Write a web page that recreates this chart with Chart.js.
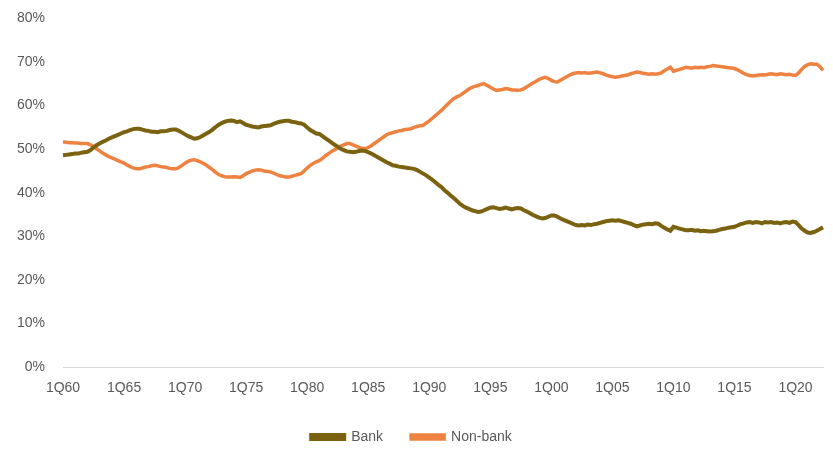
<!DOCTYPE html>
<html>
<head>
<meta charset="utf-8">
<script src="https://cdn.jsdelivr.net/npm/chart.js@4.4.0/dist/chart.umd.min.js"></script>
<style>
  html, body { margin: 0; padding: 0; background: #fff; }
  #wrap { width: 833px; height: 450px; }
</style>
</head>
<body>
<div id="wrap"><canvas id="shareChart" width="833" height="450"></canvas></div>
<script>
// quarterly series, 1Q60 .. 2Q22 (one row per year)
const firstYear = 1960;
const quarterCount = 250;

const bankShare = [
    48.6, 48.7, 48.8, 48.9,  49.0, 49.0, 49.2, 49.3,  49.4, 49.8, 50.4, 50.9,  51.3, 51.7, 52.0, 52.4,
    52.7, 53.0, 53.3, 53.6,  53.9, 54.1, 54.4, 54.6,  54.7, 54.7, 54.5, 54.3,  54.2, 54.0, 54.0, 53.9,
    54.1, 54.1, 54.2, 54.4,  54.5, 54.5, 54.2, 53.8,  53.4, 53.0, 52.7, 52.4,  52.5, 52.8, 53.2, 53.6,
    54.0, 54.5, 55.1, 55.6,  56.0, 56.3, 56.5, 56.6,  56.5, 56.2, 56.4, 56.0,  55.6, 55.4, 55.2, 55.1,
    55.0, 55.2, 55.3, 55.4,  55.5, 55.8, 56.1, 56.3,  56.4, 56.5, 56.5, 56.3,  56.2, 56.0, 55.9, 55.6,
    55.0, 54.4, 54.0, 53.6,  53.5, 53.0, 52.5, 52.0,  51.5, 51.0, 50.6, 50.1,  49.8, 49.5, 49.4, 49.3,
    49.4, 49.6, 49.7, 49.6,  49.3, 49.0, 48.6, 48.2,  47.8, 47.4, 47.0, 46.7,  46.3, 46.2, 46.0, 45.9,
    45.8, 45.7, 45.6, 45.5,  45.2, 44.8, 44.4, 44.0,  43.5, 43.0, 42.4, 41.8,  41.3, 40.6, 40.0, 39.4,
    38.8, 38.2, 37.5, 37.0,  36.6, 36.3, 36.0, 35.8,  35.6, 35.7, 36.0, 36.3,  36.6, 36.7, 36.5, 36.3,
    36.4, 36.6, 36.4, 36.2,  36.4, 36.5, 36.4, 36.0,  35.7, 35.3, 34.9, 34.6,  34.3, 34.1, 34.2, 34.5,
    34.8, 34.8, 34.5, 34.1,  33.8, 33.5, 33.2, 32.9,  32.6, 32.5, 32.6, 32.5,  32.7, 32.6, 32.8, 32.9,
    33.1, 33.3, 33.5, 33.6,  33.7, 33.6, 33.7, 33.5,  33.3, 33.1, 32.9, 32.6,  32.3, 32.5, 32.7, 32.8,
    32.9, 32.8, 33.0, 32.9,  32.4, 32.0, 31.6, 31.3,  32.2, 32.0, 31.8, 31.6,  31.4, 31.4, 31.5, 31.3,
    31.4, 31.2, 31.3, 31.2,  31.1, 31.2, 31.3, 31.5,  31.7, 31.8, 32.0, 32.1,  32.2, 32.5, 32.8, 33.0,
    33.2, 33.3, 33.1, 33.3,  33.2, 33.0, 33.3, 33.2,  33.3, 33.1, 33.2, 33.0,  33.2, 33.3, 33.1, 33.4,
    33.3, 32.6, 31.8, 31.3,  30.9, 30.8, 31.0, 31.3,  31.7, 32.1
];

const nonBankShare = [
    51.7, 51.6, 51.5, 51.5,  51.4, 51.4, 51.3, 51.3,  51.3, 51.0, 50.6, 50.1,  49.6, 49.1, 48.7, 48.3,
    48.0, 47.7, 47.4, 47.1,  46.8, 46.4, 46.0, 45.7,  45.5, 45.5, 45.7, 45.9,  46.0, 46.2, 46.3, 46.2,
    46.0, 45.9, 45.8, 45.6,  45.5, 45.5, 45.8, 46.3,  46.8, 47.2, 47.5, 47.6,  47.4, 47.1, 46.7, 46.3,
    45.8, 45.3, 44.7, 44.2,  43.9, 43.7, 43.6, 43.6,  43.7, 43.6, 43.5, 43.9,  44.4, 44.7, 45.0, 45.2,
    45.3, 45.2, 45.0, 44.9,  44.8, 44.5, 44.2, 43.9,  43.8, 43.6, 43.6, 43.8,  44.0, 44.2, 44.4, 45.0,
    45.7, 46.3, 46.7, 47.1,  47.4, 47.9, 48.5, 49.0,  49.5, 49.9, 50.3, 50.7,  51.0, 51.3, 51.3, 51.0,
    50.7, 50.4, 50.2, 50.1,  50.4, 50.8, 51.3, 51.8,  52.3, 52.8, 53.3, 53.6,  53.8, 54.0, 54.2, 54.3,
    54.5, 54.6, 54.7, 55.0,  55.2, 55.4, 55.5, 56.0,  56.5, 57.1, 57.7, 58.3,  58.9, 59.6, 60.3, 61.0,
    61.6, 62.0, 62.3, 62.8,  63.3, 63.8, 64.2, 64.4,  64.6, 64.9, 65.0, 64.6,  64.2, 63.8, 63.5, 63.6,
    63.7, 63.9, 63.8, 63.6,  63.6, 63.5, 63.6, 63.9,  64.3, 64.8, 65.2, 65.6,  66.0, 66.3, 66.5, 66.2,
    65.8, 65.5, 65.4, 65.8,  66.2, 66.6, 67.0, 67.3,  67.5, 67.6, 67.5, 67.6,  67.4, 67.5, 67.6, 67.7,
    67.5, 67.3, 67.0, 66.8,  66.6, 66.5, 66.6, 66.8,  66.9, 67.0, 67.3, 67.5,  67.7, 67.6, 67.4, 67.3,
    67.2, 67.3, 67.2, 67.3,  67.5, 68.0, 68.4, 68.8,  67.9, 68.1, 68.3, 68.5,  68.8, 68.7, 68.6, 68.8,
    68.7, 68.8, 68.7, 68.9,  69.0, 69.2, 69.1, 69.0,  68.9, 68.8, 68.7, 68.6,  68.5, 68.2, 67.8, 67.4,
    67.1, 66.9, 66.8, 66.9,  67.0, 67.1, 67.0, 67.2,  67.3, 67.2, 67.1, 67.3,  67.2, 67.1, 67.2, 67.0,
    66.9, 67.5, 68.3, 69.0,  69.4, 69.6, 69.5, 69.5,  68.9, 68.1
];

// labels shown on the x axis (every 20th quarter)
const tickLabels = ['1Q60', '1Q65', '1Q70', '1Q75', '1Q80', '1Q85', '1Q90', '1Q95', '1Q00', '1Q05', '1Q10', '1Q15', '1Q20'];
const yTicks = [0, 10, 20, 30, 40, 50, 60, 70, 80];

const quarters = [];
for (let i = 0; i < quarterCount; i++) {
    const yr = firstYear + Math.floor(i / 4);
    quarters.push((i % 4 + 1) + 'Q' + String(yr % 100).padStart(2, '0'));
}

const labelColor = '#595959';
const fontFamily = '"Liberation Sans", Arial, sans-serif';

const ctx = document.getElementById('shareChart').getContext('2d');
new Chart(ctx, {
    type: 'line',
    data: {
        labels: quarters,
        datasets: [
            {
                label: 'Bank',
                data: bankShare,
                borderColor: '#7a6210',
                backgroundColor: '#7a6210',
                borderWidth: 4,
                pointRadius: 0,
                tension: 0
            },
            {
                label: 'Non-bank',
                data: nonBankShare,
                borderColor: '#ee8240',
                backgroundColor: '#ee8240',
                borderWidth: 3.5,
                pointRadius: 0,
                tension: 0
            }
        ]
    },
    options: {
        responsive: false,
        animation: false,
        layout: { padding: { left: 0, right: 10, top: 3, bottom: -4 } },
        scales: {
            x: {
                offset: false,
                grid: { display: false },
                border: { display: true, color: '#d9d9d9', width: 1 },
                ticks: {
                    autoSkip: false,
                    maxRotation: 0,
                    padding: 5,
                    color: labelColor,
                    font: { family: fontFamily, size: 14 },
                    callback: function (val, idx) {
                        const lbl = quarters[idx];
                        return tickLabels.includes(lbl) ? lbl : null;
                    }
                }
            },
            y: {
                min: 0,
                max: 80,
                afterFit: function (scale) { scale.width = 63; },
                afterBuildTicks: function (scale) {
                    scale.ticks = yTicks.map(v => ({ value: v }));
                },
                grid: { display: false },
                border: { display: false },
                ticks: {
                    padding: 10,
                    color: labelColor,
                    font: { family: fontFamily, size: 14 },
                    callback: function (v) { return v + '%'; }
                }
            }
        },
        plugins: {
            legend: {
                position: 'bottom',
                labels: {
                    boxWidth: 33,
                    boxHeight: 4,
                    padding: 28,
                    color: labelColor,
                    font: { family: fontFamily, size: 14 }
                }
            },
            tooltip: { enabled: false }
        }
    }
});
</script>
</body>
</html>
